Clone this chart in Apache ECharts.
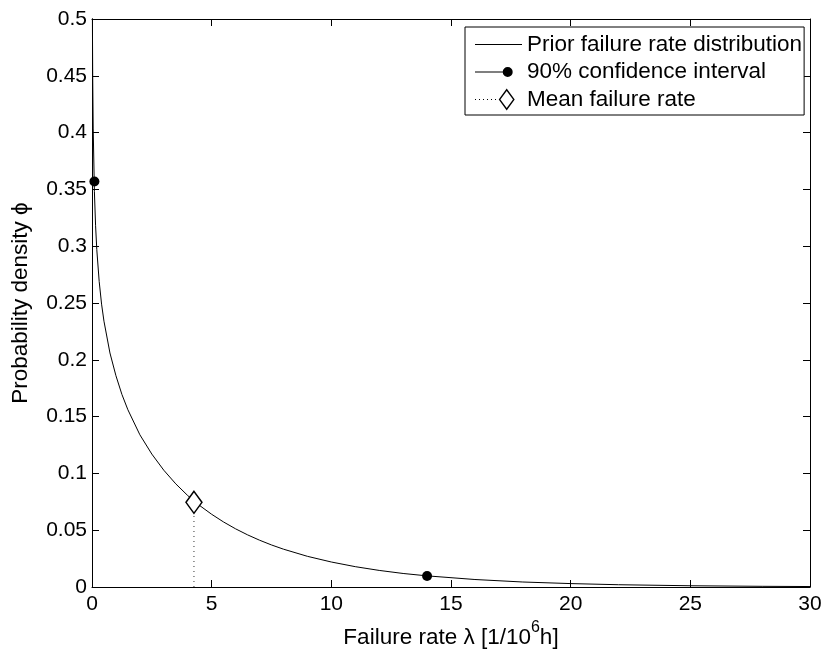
<!DOCTYPE html>
<html>
<head>
<meta charset="utf-8">
<script src="https://cdn.jsdelivr.net/npm/echarts@6/dist/echarts.min.js"></script>
<style>
  html, body { margin: 0; padding: 0; background: #fff; }
  #chart { width: 829px; height: 654px; }
</style>
</head>
<body>
<div id="chart"></div>
<script>
// ---- data ----
const lambdaValues = [0.01, 0.02, 0.03, 0.05, 0.1, 0.15, 0.2, 0.3, 0.4, 0.5, 0.75, 1, 1.25, 1.5, 2, 2.5, 3, 3.5, 4, 4.5, 5, 5.5, 6, 6.5, 7, 7.5, 8, 9, 10, 11, 12, 13, 14, 16, 18, 20, 22, 25, 28, 30];
const densityValues = [0.561, 0.487, 0.449, 0.404, 0.348, 0.318, 0.297, 0.269, 0.249, 0.234, 0.206, 0.186, 0.1695, 0.156, 0.134, 0.117, 0.1028, 0.0908, 0.0805, 0.0717, 0.064, 0.0572, 0.0512, 0.0459, 0.0412, 0.037, 0.0333, 0.027, 0.022, 0.0179, 0.0146, 0.0119, 0.0098, 0.0066, 0.0044, 0.003, 0.002, 0.0011, 0.0006, 0.0004];
const ciLambda = [0.1, 14.0];
const ciDensity = [0.357, 0.0097];
const meanLambda = 4.26;
const meanDensity = 0.0746;
const seriesNames = ['Prior failure rate distribution', '90% confidence interval', 'Mean failure rate'];
const xTicks = { min: 0, max: 30, interval: 5 };
const yTicks = { min: 0, max: 0.5, interval: 0.05 };

// ---- build ----
const curveData = lambdaValues.map((x, i) => [x, densityValues[i]]);
const ciData = ciLambda.map((x, i) => [x, ciDensity[i]]);
const meanData = [
  { value: [meanLambda, 0], symbol: 'none' },
  { value: [meanLambda, meanDensity] }
];

const FONT = '"Liberation Sans", Arial, Helvetica, sans-serif';
const corners = 'M0,0L0,0Z M47,22L47,22Z ';
const iconLine = 'path://' + corners + 'M0,10.5h47v1h-47z';
const iconCI = 'path://' + corners + 'M0,10.5h30v1h-30z M37.7,11 A5,5 0 1,1 27.7,11 A5,5 0 1,1 37.7,11 Z';
let dots = '';
for (let d = 0; d <= 20; d += 4) dots += 'M' + d + ',10.5h1v1h-1z ';
const iconMean = 'path://' + corners + dots +
  'M31.7,0 L39.7,11 L31.7,22 L23.7,11 Z M31.7,2.4 L25.4,11 L31.7,19.6 L38,11 Z';

const axisCommon = {
  type: 'value',
  axisLine: { show: true, onZero: false, lineStyle: { color: '#000', width: 1 } },
  axisTick: { show: true, inside: true, length: 7, lineStyle: { color: '#000', width: 1 } },
  splitLine: { show: false }
};

const chart = echarts.init(document.getElementById('chart'), null, { renderer: 'canvas' });
chart.setOption({
  animation: false,
  backgroundColor: '#fff',
  textStyle: { fontFamily: FONT, color: '#000' },
  grid: { left: 92, right: 19, top: 19, bottom: 67, containLabel: false },
  legend: {
    orient: 'vertical',
    left: 465,
    top: 27,
    padding: [6, 2, 4, 10],
    itemWidth: 47,
    itemHeight: 22,
    itemGap: 4.5,
    symbolKeepAspect: true,
    backgroundColor: '#fff',
    borderColor: '#000',
    borderWidth: 1,
    borderRadius: 0,
    itemStyle: { borderWidth: 0, color: '#000' },
    textStyle: { fontFamily: FONT, fontSize: 22.5, color: '#000', padding: [0, 0, 0, 0] },
    data: [
      { name: seriesNames[0], icon: iconLine },
      { name: seriesNames[1], icon: iconCI },
      { name: seriesNames[2], icon: iconMean }
    ],
    selectedMode: false
  },
  xAxis: [
    Object.assign({}, axisCommon, {
      position: 'bottom',
      min: xTicks.min, max: xTicks.max, interval: xTicks.interval,
      axisLabel: { show: true, margin: 7, fontSize: 21, color: '#000', fontFamily: FONT },
      name: '{n|Failure rate λ [1/10}{sup|6}{n|h]}',
      nameLocation: 'middle',
      nameGap: 25,
      nameTextStyle: {
        fontSize: 22.5, color: '#000', fontFamily: FONT,
        rich: {
          n: { fontSize: 22.5, verticalAlign: 'bottom', fontFamily: FONT, color: '#000' },
          sup: { fontSize: 16, verticalAlign: 'top', padding: [0, 0, 13, 0], fontFamily: FONT, color: '#000' }
        }
      }
    }),
    Object.assign({}, axisCommon, {
      position: 'top',
      min: xTicks.min, max: xTicks.max, interval: xTicks.interval,
      axisLabel: { show: false }
    })
  ],
  yAxis: [
    Object.assign({}, axisCommon, {
      position: 'left',
      min: yTicks.min, max: yTicks.max, interval: yTicks.interval,
      axisLabel: { show: true, margin: 5, fontSize: 21, color: '#000', fontFamily: FONT },
      name: 'Probability density ϕ',
      nameLocation: 'middle',
      nameGap: 60,
      nameTextStyle: { fontSize: 22.5, color: '#000', fontFamily: FONT }
    }),
    Object.assign({}, axisCommon, {
      position: 'right',
      min: yTicks.min, max: yTicks.max, interval: yTicks.interval,
      axisLabel: { show: false }
    })
  ],
  series: [
    {
      name: seriesNames[0],
      type: 'line',
      data: curveData,
      symbol: 'none',
      smooth: false,
      clip: true,
      lineStyle: { color: '#000', width: 1 },
      itemStyle: { color: '#000' },
      z: 2
    },
    {
      name: seriesNames[1],
      type: 'scatter',
      data: ciData,
      symbol: 'circle',
      symbolSize: 10,
      itemStyle: { color: '#000', opacity: 1 },
      z: 4
    },
    {
      name: seriesNames[2],
      type: 'line',
      data: meanData,
      symbol: 'diamond',
      symbolSize: [16, 22],
      showAllSymbol: true,
      lineStyle: { color: '#333', width: 1, type: [1, 4] },
      itemStyle: { color: '#fff', borderColor: '#000', borderWidth: 1.5 },
      z: 5
    }
  ]
});
</script>
</body>
</html>
